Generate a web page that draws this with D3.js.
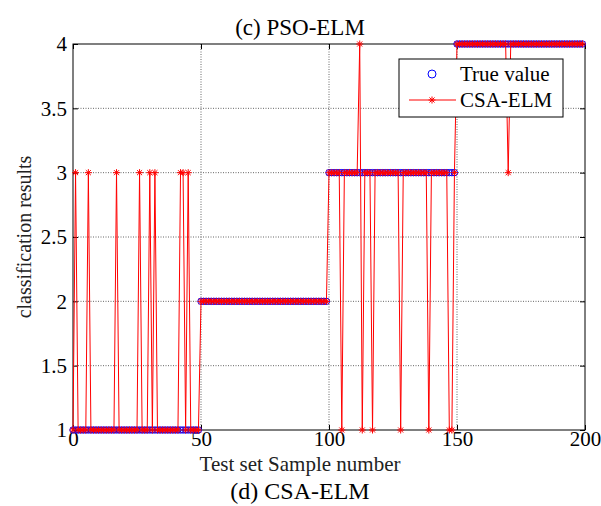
<!DOCTYPE html>
<html>
<head>
<meta charset="utf-8">
<script src="https://cdn.jsdelivr.net/npm/d3@7"></script>
<style>
	body { margin: 0; background: #fff; }
	svg { display: block; font-family: "Liberation Serif", "Times New Roman", serif; }
	.grid line { stroke: #666; stroke-dasharray: 1,1.5; stroke-width: 1; }
	.axis path, .axis line { stroke: #000; }
</style>
</head>
<body>
<div class="chart"></div>
<script>
// DATA
// sample index 0..199
var samples = d3.range(0, 200);

// true class per sample
var trueValues = [
	1,1,1,1,1,1,1,1,1,1, 1,1,1,1,1,1,1,1,1,1, 1,1,1,1,1,1,1,1,1,1, 1,1,1,1,1,1,1,1,1,1, 1,1,1,1,1,1,1,1,1,1,
	2,2,2,2,2,2,2,2,2,2, 2,2,2,2,2,2,2,2,2,2, 2,2,2,2,2,2,2,2,2,2, 2,2,2,2,2,2,2,2,2,2, 2,2,2,2,2,2,2,2,2,2,
	3,3,3,3,3,3,3,3,3,3, 3,3,3,3,3,3,3,3,3,3, 3,3,3,3,3,3,3,3,3,3, 3,3,3,3,3,3,3,3,3,3, 3,3,3,3,3,3,3,3,3,3,
	4,4,4,4,4,4,4,4,4,4, 4,4,4,4,4,4,4,4,4,4, 4,4,4,4,4,4,4,4,4,4, 4,4,4,4,4,4,4,4,4,4, 4,4,4,4,4,4,4,4,4,4
];

// CSA-ELM predicted class per sample
var predValues = [
	1,3,1,1,1,1,3,1,1,1, 1,1,1,1,1,1,1,3,1,1, 1,1,1,1,1,1,3,1,1,1, 3,1,3,1,1,1,1,1,1,1, 1,1,3,3,1,3,1,1,1,1,
	2,2,2,2,2,2,2,2,2,2, 2,2,2,2,2,2,2,2,2,2, 2,2,2,2,2,2,2,2,2,2, 2,2,2,2,2,2,2,2,2,2, 2,2,2,2,2,2,2,2,2,2,
	3,3,3,3,3,1,3,3,3,3, 3,3,4,1,3,3,3,1,3,3, 3,3,3,3,3,3,3,3,1,3, 3,3,3,3,3,3,3,3,3,1, 3,3,3,3,3,3,3,1,1,3,
	4,4,4,4,4,4,4,4,4,4, 4,4,4,4,4,4,4,4,4,4, 3,4,4,4,4,4,4,4,4,4, 4,4,4,4,4,4,4,4,4,4, 4,4,4,4,4,4,4,4,4,4
];

var xTicks = [0, 50, 100, 150, 200];
var yTicks = [1, 1.5, 2, 2.5, 3, 3.5, 4];
var legendLabels = ["True value", "CSA-ELM"];

// LAYOUT
var W = 601, H = 506;
var margin = { left: 73, right: 16, top: 44, bottom: 76 };
var iw = W - margin.left - margin.right;
var ih = H - margin.top - margin.bottom;

var svg = d3.select(".chart")
	.append("svg")
	.attr("width", W)
	.attr("height", H);

var x = d3.scaleLinear().domain([0, 200]).range([0, iw]);
var y = d3.scaleLinear().domain([1, 4]).range([ih, 0]);

var g = svg.append("g")
	.attr("transform", "translate(" + margin.left + "," + margin.top + ")");

// grid
var grid = g.append("g").attr("class", "grid");
grid.selectAll(".gx")
	.data(xTicks.slice(1, -1))
	.enter().append("line")
		.attr("x1", x).attr("x2", x)
		.attr("y1", 0).attr("y2", ih);
grid.selectAll(".gy")
	.data(yTicks.slice(1, -1))
	.enter().append("line")
		.attr("x1", 0).attr("x2", iw)
		.attr("y1", y).attr("y2", y);

// axes (inward ticks on all four sides)
function styleAxis(sel) {
	sel.attr("class", "axis")
		.style("font-family", "Liberation Serif, Times New Roman, serif")
		.style("font-size", "21px");
	sel.select(".domain").remove();
}
g.append("g")
	.attr("transform", "translate(0," + ih + ")")
	.call(d3.axisBottom(x).tickValues(xTicks).tickSize(-5).tickPadding(1).tickFormat(d3.format("d")))
	.call(styleAxis);
g.append("g")
	.call(d3.axisTop(x).tickValues(xTicks).tickSize(-5).tickFormat(""))
	.call(styleAxis);
g.append("g")
	.call(d3.axisLeft(y).tickValues(yTicks).tickSize(-5).tickPadding(6).tickFormat(d3.format("")))
	.call(styleAxis);
g.append("g")
	.attr("transform", "translate(" + iw + ",0)")
	.call(d3.axisRight(y).tickValues(yTicks).tickSize(-5).tickFormat(""))
	.call(styleAxis);
g.selectAll(".axis text").attr("fill", "#000");

g.append("rect")
	.attr("width", iw).attr("height", ih)
	.attr("fill", "none").attr("stroke", "#000").attr("stroke-width", 1);

// true values: blue circles
g.append("g").selectAll("circle")
	.data(samples)
	.enter().append("circle")
		.attr("cx", function(d) { return x(d); })
		.attr("cy", function(d) { return y(trueValues[d]); })
		.attr("r", 3.2)
		.attr("fill", "none")
		.attr("stroke", "#0000ff")
		.attr("stroke-width", 1);

// predictions: red line with star markers
var line = d3.line()
	.x(function(d) { return x(d); })
	.y(function(d) { return y(predValues[d]); });

g.append("path")
	.datum(samples)
	.attr("d", line)
	.attr("fill", "none")
	.attr("stroke", "#ff0000")
	.attr("stroke-width", 1);

function starPath(cx, cy, s) {
	var p = d3.path();
	var d = s * 0.72;
	p.moveTo(cx - s, cy); p.lineTo(cx + s, cy);
	p.moveTo(cx, cy - s); p.lineTo(cx, cy + s);
	p.moveTo(cx - d, cy - d); p.lineTo(cx + d, cy + d);
	p.moveTo(cx - d, cy + d); p.lineTo(cx + d, cy - d);
	return p.toString();
}

g.append("path")
	.attr("d", samples.map(function(d) { return starPath(x(d), y(predValues[d]), 3.5); }).join(""))
	.attr("fill", "none")
	.attr("stroke", "#ff0000")
	.attr("stroke-width", 1);

// legend
var legend = svg.append("g").attr("transform", "translate(399,59)");
legend.append("rect")
	.attr("width", 164).attr("height", 58)
	.attr("fill", "#fff").attr("stroke", "#000").attr("stroke-width", 1);
legend.append("circle")
	.attr("cx", 33).attr("cy", 15).attr("r", 4)
	.attr("fill", "none").attr("stroke", "#0000ff");
legend.append("line")
	.attr("x1", 10).attr("x2", 57).attr("y1", 41).attr("y2", 41)
	.attr("stroke", "#ff0000");
legend.append("path")
	.attr("d", starPath(33, 41, 3.5))
	.attr("fill", "none").attr("stroke", "#ff0000");
legend.selectAll("text")
	.data(legendLabels)
	.enter().append("text")
		.attr("x", 61)
		.attr("y", function(d, i) { return 22 + i * 26; })
		.style("font-size", "21px")
		.text(function(d) { return d; });

// titles and axis labels
svg.append("text")
	.attr("x", 300).attr("y", 35)
	.attr("text-anchor", "middle")
	.style("font-size", "23px")
	.text("(c)  PSO-ELM");

svg.append("text")
	.attr("x", 300).attr("y", 471)
	.attr("text-anchor", "middle")
	.attr("fill", "#222")
	.style("font-size", "21px")
	.text("Test set Sample number");

svg.append("text")
	.attr("x", 300).attr("y", 499)
	.attr("text-anchor", "middle")
	.style("font-size", "24px")
	.text("(d) CSA-ELM");

svg.append("text")
	.attr("transform", "translate(31," + (margin.top + ih / 2) + ") rotate(-90)")
	.attr("text-anchor", "middle")
	.attr("fill", "#222")
	.style("font-size", "20px")
	.text("classification results");
</script>
</body>
</html>
